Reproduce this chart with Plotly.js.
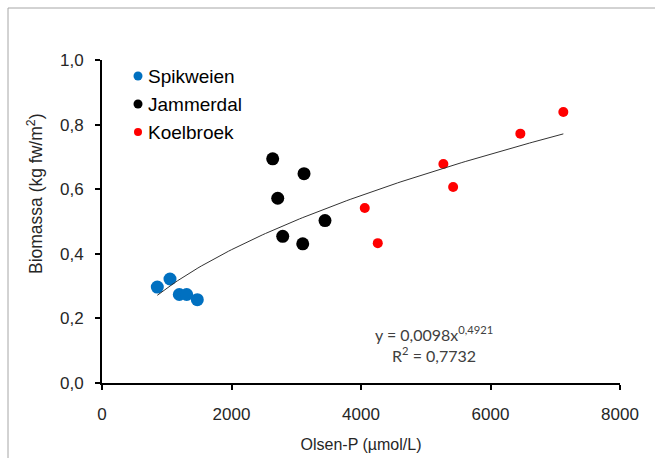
<!DOCTYPE html>
<html>
<head>
<meta charset="utf-8">
<script src="https://cdn.plot.ly/plotly-3.0.1.min.js"></script>
<style>
  html, body { margin: 0; padding: 0; background: #fff; }
  #chart { width: 655px; height: 458px; }
</style>
</head>
<body>
<div id="chart"></div>
<script>
// Olsen-P (µmol/L) versus biomass (kg fw/m²) per site
const seriesNames = ["Spikweien", "Jammerdal", "Koelbroek"];
const spikweienX = [854, 1050, 1194, 1308, 1472];
const spikweienY = [0.297, 0.322, 0.274, 0.274, 0.258];
const jammerdalX = [2636, 3120, 2714, 3444, 2791, 3100];
const jammerdalY = [0.694, 0.648, 0.572, 0.503, 0.454, 0.431];
const koelbroekX = [4058, 4259, 5272, 5423, 6461, 7125];
const koelbroekY = [0.542, 0.433, 0.678, 0.607, 0.772, 0.839];

// Power trendline y = a·x^b fitted over all sites
const fitA = 0.0098;
const fitB = 0.4921;
const fitR2 = 0.7732;

const xTicks = [0, 2000, 4000, 6000, 8000];
const yTicks = [0, 0.2, 0.4, 0.6, 0.8, 1.0];
const xTitle = "Olsen-P (µmol/L)";
const yTitle = "Biomassa (kg fw/m<sup>2</sup>)";

const colors = ["#0070C0", "#000000", "#FF0000"];
const markerSizes = [13, 13, 10];

const xs = [spikweienX, jammerdalX, koelbroekX];
const ys = [spikweienY, jammerdalY, koelbroekY];

const traces = xs.map((x, i) => ({
  type: "scatter",
  mode: "markers",
  name: seriesNames[i],
  x: x,
  y: ys[i],
  marker: { color: colors[i], size: markerSizes[i], line: { width: 0 } },
  hoverinfo: "x+y+name"
}));

// trendline across the observed Olsen-P range
const allX = [].concat(...xs);
const xMin = Math.min(...allX), xMax = Math.max(...allX);
const fitX = [], fitY = [];
const n = 120;
for (let k = 0; k <= n; k++) {
  const xv = xMin + (xMax - xMin) * k / n;
  fitX.push(xv);
  fitY.push(fitA * Math.pow(xv, fitB));
}
traces.push({
  type: "scatter",
  mode: "lines",
  x: fitX,
  y: fitY,
  line: { color: "#333333", width: 1 },
  hoverinfo: "skip",
  showlegend: false
});

// plot-area geometry in pixels, used to place paper-referenced items
const W = 655, H = 458;
const L = 102, R = 620, T = 60, B = 383;
const px = v => (v - L) / (R - L);
const py = v => (B - v) / (B - T);

const comma = v => String(v).replace(".", ",");
const sans = "Liberation Sans, Arial, sans-serif";

const shapes = [
  // outer chart border (left and top edges visible)
  { type: "line", xref: "paper", yref: "paper", x0: px(8), x1: px(8), y0: py(8), y1: py(H + 2),
    line: { color: "#a6a6a6", width: 1 } },
  { type: "line", xref: "paper", yref: "paper", x0: px(8), x1: px(W + 2), y0: py(8), y1: py(8),
    line: { color: "#a6a6a6", width: 1 } }
];

const annotations = [];
const legendRowsY = [76, 104, 132];
seriesNames.forEach((name, i) => {
  const r = i === 2 ? 4 : 4.5;
  shapes.push({
    type: "circle", xref: "paper", yref: "paper",
    xsizemode: "pixel", ysizemode: "pixel",
    xanchor: px(138), yanchor: py(legendRowsY[i]),
    x0: -r, x1: r, y0: -r, y1: r,
    fillcolor: colors[i], line: { width: 0 }
  });
  annotations.push({
    xref: "paper", yref: "paper", x: px(146), y: py(legendRowsY[i]),
    xanchor: "left", yanchor: "middle", showarrow: false,
    text: name, font: { family: sans, size: 19, color: "#000000" }
  });
});

// trendline equation and goodness of fit
annotations.push({
  xref: "paper", yref: "paper", x: px(434), y: py(333),
  xanchor: "center", yanchor: "middle", showarrow: false,
  text: "y = " + comma(fitA) + "x<sup>" + comma(fitB) + "</sup>",
  font: { family: "Lato, Open Sans, sans-serif", size: 16, color: "#404040" }
});
annotations.push({
  xref: "paper", yref: "paper", x: px(434), y: py(354),
  xanchor: "center", yanchor: "middle", showarrow: false,
  text: "R<sup>2</sup> = " + comma(fitR2),
  font: { family: "Lato, Open Sans, sans-serif", size: 16, color: "#404040" }
});

// y-axis title, set a little above the plot's vertical centre
annotations.push({
  xref: "paper", yref: "paper", x: px(35), y: py(194),
  xanchor: "center", yanchor: "middle", showarrow: false, textangle: -90,
  text: yTitle, font: { family: sans, size: 17.5, color: "#262626" }
});

const tickFont = { family: sans, size: 17, color: "#262626" };

const layout = {
  width: W, height: H,
  margin: { l: L, r: W - R, t: T, b: H - B, pad: 0 },
  paper_bgcolor: "#ffffff",
  plot_bgcolor: "#ffffff",
  separators: ", ",
  showlegend: false,
  font: { family: sans, color: "#262626" },
  xaxis: {
    range: [0, 8000],
    tickvals: xTicks,
    ticktext: xTicks.map(v => String(v)),
    showgrid: false, zeroline: false,
    showline: true, linecolor: "#000000", linewidth: 2,
    ticks: "outside", ticklen: 5, tickwidth: 2, tickcolor: "#000000",
    ticklabelstandoff: 10,
    tickfont: tickFont,
    title: { text: xTitle, font: { family: sans, size: 16, color: "#262626" }, standoff: 15 }
  },
  yaxis: {
    range: [0, 1.0],
    tickvals: yTicks,
    ticktext: yTicks.map(v => v.toFixed(1).replace(".", ",")),
    showgrid: false, zeroline: false,
    showline: true, linecolor: "#000000", linewidth: 2,
    ticks: "outside", ticklen: 5, tickwidth: 2, tickcolor: "#000000",
    ticklabelstandoff: 8,
    tickfont: tickFont
  },
  shapes: shapes,
  annotations: annotations
};

Plotly.newPlot("chart", traces, layout, { displayModeBar: false, staticPlot: true });
</script>
</body>
</html>
